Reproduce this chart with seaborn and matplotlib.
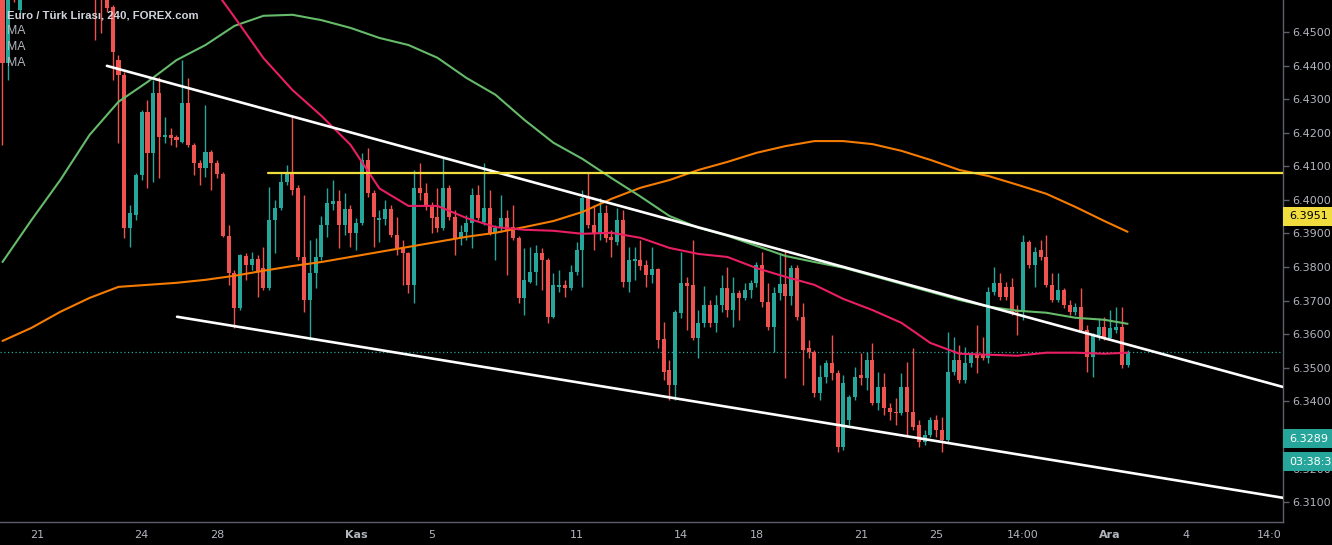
import matplotlib
matplotlib.use("Agg")
import matplotlib.pyplot as plt
from matplotlib.patches import Rectangle
import numpy as np
import pandas as pd
import seaborn as sns

# EUR/TRY 4h candles, one entry per bar (bar index 0 = first visible bar)
opens = [
    6.4684, 6.4407, 6.4660, 6.4565, 6.4670, 6.4640, 6.4700, 6.4760, 6.4730, 6.4790,
    6.4740, 6.4700, 6.4750, 6.4720, 6.4690, 6.4720, 6.4670, 6.4640, 6.4610, 6.4574,
    6.4416, 6.4372, 6.3917, 6.3955, 6.4075, 6.4262, 6.4140, 6.4318, 6.4187, 6.4193,
    6.4187, 6.4172, 6.4289, 6.4164, 6.4110, 6.4095, 6.4143, 6.4110, 6.4077, 6.3893,
    6.3783, 6.3679, 6.3833, 6.3806, 6.3824, 6.3798, 6.3738, 6.3940, 6.3976, 6.4054,
    6.4083, 6.4036, 6.3830, 6.3702, 6.3783, 6.3830, 6.3926, 6.3988, 6.3997, 6.3926,
    6.3973, 6.3902, 6.3931, 6.4119, 6.4021, 6.3940, 6.3943, 6.3973, 6.3896, 6.3857,
    6.3842, 6.3747, 6.4036, 6.4021, 6.3982, 6.3949, 6.3917, 6.4036, 6.3949, 6.3887,
    6.3905, 6.3931, 6.4015, 6.3934, 6.3976, 6.3902, 6.3917, 6.3946, 6.3920, 6.3887,
    6.3708, 6.3756, 6.3786, 6.3842, 6.3821, 6.3652, 6.3741, 6.3747, 6.3738, 6.3786,
    6.3851, 6.4006, 6.3926, 6.3902, 6.3961, 6.3890, 6.3875, 6.3940, 6.3756, 6.3818,
    6.3821, 6.3806, 6.3777, 6.3795, 6.3586, 6.3494, 6.3449, 6.3664, 6.3753, 6.3747,
    6.3589, 6.3634, 6.3688, 6.3634, 6.3688, 6.3738, 6.3673, 6.3723, 6.3708, 6.3732,
    6.3753, 6.3806, 6.3696, 6.3622, 6.3723, 6.3750, 6.3714, 6.3798, 6.3652, 6.3560,
    6.3548, 6.3426, 6.3473, 6.3515, 6.3485, 6.3265, 6.3345, 6.3414, 6.3479, 6.3470,
    6.3524, 6.3396, 6.3443, 6.3381, 6.3369, 6.3366, 6.3443, 6.3369, 6.3330, 6.3280,
    6.3301, 6.3345, 6.3315, 6.3286, 6.3488, 6.3524, 6.3464, 6.3515, 6.3539, 6.3539,
    6.3530, 6.3726, 6.3753, 6.3741, 6.3741, 6.3673, 6.3667, 6.3875, 6.3806, 6.3851,
    6.3830, 6.3747, 6.3702, 6.3732, 6.3688, 6.3667, 6.3682, 6.3613, 6.3533, 6.3598,
    6.3622, 6.3589, 6.3613, 6.3622, 6.3509,
]
highs = [
    6.4774, 6.4714, 6.4690, 6.4714, 6.4720, 6.4730, 6.4790, 6.4800, 6.4820, 6.4830,
    6.4770, 6.4780, 6.4770, 6.4750, 6.4740, 6.4750, 6.4710, 6.4680, 6.4670, 6.4580,
    6.4431, 6.4381, 6.3985, 6.4080, 6.4268, 6.4298, 6.4357, 6.4366, 6.4247, 6.4214,
    6.4193, 6.4416, 6.4363, 6.4170, 6.4119, 6.4283, 6.4149, 6.4119, 6.4083, 6.3926,
    6.3792, 6.3839, 6.3842, 6.3845, 6.3836, 6.3860, 6.4039, 6.4000, 6.4080, 6.4104,
    6.4253, 6.4045, 6.4015, 6.3881, 6.3887, 6.3952, 6.4036, 6.4060, 6.4030, 6.4021,
    6.3985, 6.3946, 6.4140, 6.4155, 6.4030, 6.3970, 6.4000, 6.3985, 6.3949, 6.3881,
    6.3845, 6.4089, 6.4110, 6.4051, 6.3994, 6.4036, 6.4125, 6.4045, 6.3970, 6.3926,
    6.3955, 6.4036, 6.4045, 6.4110, 6.4030, 6.3926, 6.4015, 6.3970, 6.3985, 6.3893,
    6.3857, 6.3860, 6.3866, 6.3857, 6.3827, 6.3783, 6.3792, 6.3762, 6.3806, 6.3875,
    6.4030, 6.4083, 6.3985, 6.4006, 6.3985, 6.3911, 6.3976, 6.3970, 6.3860, 6.3860,
    6.3881, 6.3821, 6.3860, 6.3798, 6.3637, 6.3524, 6.3673, 6.3845, 6.3771, 6.3881,
    6.3673, 6.3744, 6.3702, 6.3717, 6.3777, 6.3801, 6.3771, 6.3732, 6.3753, 6.3762,
    6.3815, 6.3845, 6.3753, 6.3741, 6.3842, 6.3851, 6.3806, 6.3806, 6.3693, 6.3583,
    6.3554, 6.3509, 6.3524, 6.3598, 6.3494, 6.3479, 6.3420, 6.3503, 6.3545, 6.3548,
    6.3574, 6.3488, 6.3485, 6.3396, 6.3411, 6.3485, 6.3518, 6.3560, 6.3345, 6.3315,
    6.3354, 6.3360, 6.3354, 6.3607, 6.3592, 6.3568, 6.3562, 6.3548, 6.3628, 6.3592,
    6.3741, 6.3801, 6.3783, 6.3756, 6.3768, 6.3688, 6.3896, 6.3881, 6.3860, 6.3881,
    6.3896, 6.3783, 6.3783, 6.3738, 6.3702, 6.3693, 6.3738, 6.3628, 6.3604, 6.3649,
    6.3652, 6.3673, 6.3682, 6.3682, 6.3554,
]
lows = [
    6.4164, 6.4357, 6.4590, 6.4553, 6.4610, 6.4620, 6.4680, 6.4700, 6.4710, 6.4700,
    6.4660, 6.4680, 6.4690, 6.4650, 6.4660, 6.4640, 6.4476, 6.4497, 6.4559, 6.4357,
    6.4170, 6.3887, 6.3860, 6.3940, 6.4060, 6.4036, 6.4054, 6.4066, 6.4170, 6.4164,
    6.4158, 6.4170, 6.4158, 6.4075, 6.4045, 6.4069, 6.4030, 6.4066, 6.3890, 6.3747,
    6.3619, 6.3673, 6.3762, 6.3792, 6.3711, 6.3732, 6.3732, 6.3842, 6.3970, 6.4045,
    6.4015, 6.3821, 6.3667, 6.3583, 6.3738, 6.3821, 6.3890, 6.3970, 6.3857, 6.3896,
    6.3860, 6.3851, 6.3926, 6.4009, 6.3860, 6.3875, 6.3926, 6.3890, 6.3836, 6.3747,
    6.3723, 6.3693, 6.4000, 6.3970, 6.3902, 6.3905, 6.3911, 6.3940, 6.3836, 6.3866,
    6.3881, 6.3857, 6.3940, 6.3926, 6.3896, 6.3821, 6.3905, 6.3777, 6.3881, 6.3693,
    6.3658, 6.3753, 6.3747, 6.3732, 6.3634, 6.3649, 6.3726, 6.3711, 6.3732, 6.3777,
    6.3741, 6.3917, 6.3851, 6.3881, 6.3875, 6.3830, 6.3866, 6.3741, 6.3726, 6.3762,
    6.3792, 6.3741, 6.3753, 6.3560, 6.3464, 6.3405, 6.3405, 6.3649, 6.3613, 6.3583,
    6.3530, 6.3622, 6.3622, 6.3607, 6.3667, 6.3652, 6.3622, 6.3643, 6.3702, 6.3708,
    6.3741, 6.3682, 6.3613, 6.3548, 6.3702, 6.3470, 6.3688, 6.3643, 6.3449, 6.3530,
    6.3414, 6.3405, 6.3455, 6.3464, 6.3250, 6.3256, 6.3330, 6.3405, 6.3449, 6.3435,
    6.3390, 6.3375, 6.3360, 6.3345, 6.3330, 6.3360, 6.3295, 6.3315, 6.3265, 6.3271,
    6.3295, 6.3295, 6.3250, 6.3280, 6.3479, 6.3455, 6.3455, 6.3503, 6.3485, 6.3524,
    6.3515, 6.3717, 6.3702, 6.3702, 6.3658, 6.3598, 6.3643, 6.3798, 6.3741, 6.3821,
    6.3741, 6.3696, 6.3696, 6.3679, 6.3658, 6.3658, 6.3607, 6.3488, 6.3473, 6.3583,
    6.3583, 6.3583, 6.3604, 6.3500, 6.3503,
]
closes = [
    6.4407, 6.4625, 6.4600, 6.4670, 6.4640, 6.4700, 6.4760, 6.4730, 6.4790, 6.4740,
    6.4700, 6.4750, 6.4720, 6.4690, 6.4720, 6.4670, 6.4610, 6.4595, 6.4571, 6.4440,
    6.4372, 6.3917, 6.3961, 6.4075, 6.4262, 6.4140, 6.4318, 6.4187, 6.4193, 6.4184,
    6.4178, 6.4289, 6.4164, 6.4110, 6.4095, 6.4143, 6.4110, 6.4077, 6.3893, 6.3783,
    6.3679, 6.3836, 6.3806, 6.3824, 6.3786, 6.3738, 6.3940, 6.3976, 6.4054, 6.4083,
    6.4030, 6.3830, 6.3702, 6.3783, 6.3830, 6.3926, 6.3991, 6.3997, 6.3926, 6.3973,
    6.3902, 6.3931, 6.4119, 6.4021, 6.3949, 6.3946, 6.3973, 6.3896, 6.3857, 6.3842,
    6.3747, 6.4036, 6.4021, 6.3979, 6.3946, 6.3917, 6.4036, 6.3949, 6.3887, 6.3905,
    6.3931, 6.4015, 6.3946, 6.3976, 6.3902, 6.3917, 6.3946, 6.3911, 6.3887, 6.3708,
    6.3762, 6.3786, 6.3842, 6.3821, 6.3652, 6.3747, 6.3747, 6.3738, 6.3786, 6.3851,
    6.4006, 6.3926, 6.3902, 6.3961, 6.3887, 6.3881, 6.3940, 6.3756, 6.3821, 6.3824,
    6.3803, 6.3777, 6.3795, 6.3583, 6.3488, 6.3449, 6.3667, 6.3753, 6.3744, 6.3589,
    6.3634, 6.3688, 6.3634, 6.3688, 6.3738, 6.3673, 6.3723, 6.3708, 6.3732, 6.3753,
    6.3806, 6.3696, 6.3622, 6.3723, 6.3750, 6.3714, 6.3798, 6.3652, 6.3554, 6.3548,
    6.3426, 6.3473, 6.3515, 6.3485, 6.3265, 6.3455, 6.3414, 6.3473, 6.3470, 6.3524,
    6.3396, 6.3443, 6.3381, 6.3369, 6.3366, 6.3443, 6.3369, 6.3324, 6.3280, 6.3301,
    6.3345, 6.3315, 6.3286, 6.3488, 6.3524, 6.3464, 6.3515, 6.3539, 6.3530, 6.3530,
    6.3726, 6.3753, 6.3711, 6.3711, 6.3667, 6.3667, 6.3875, 6.3806, 6.3845, 6.3830,
    6.3747, 6.3702, 6.3732, 6.3688, 6.3667, 6.3682, 6.3613, 6.3533, 6.3598, 6.3622,
    6.3589, 6.3619, 6.3622, 6.3509, 6.3548,
]

# moving averages, read every 5 bars
ma_bars = list(range(0, 191, 5)) + [194]
ma_green = [
    6.3815, 6.3940, 6.4060, 6.4193, 6.4292, 6.4351, 6.4416, 6.4461, 6.4518, 6.4548,
    6.4551, 6.4535, 6.4512, 6.4482, 6.4461, 6.4423, 6.4363, 6.4313, 6.4238, 6.4170,
    6.4122, 6.4065, 6.4010, 6.3952, 6.3917, 6.3893, 6.3863, 6.3833, 6.3815, 6.3798,
    6.3774, 6.3750, 6.3726, 6.3702, 6.3682, 6.3670, 6.3664, 6.3649, 6.3643, 6.3631,
]
ma_orange = [
    6.3580, 6.3619, 6.3667, 6.3708, 6.3741, 6.3747, 6.3753, 6.3762, 6.3774, 6.3789,
    6.3803, 6.3815, 6.3830, 6.3845, 6.3860, 6.3875, 6.3890, 6.3902, 6.3919, 6.3937,
    6.3964, 6.4003, 6.4036, 6.4059, 6.4089, 6.4113, 6.4140, 6.4160, 6.4175, 6.4175,
    6.4166, 6.4146, 6.4119, 6.4089, 6.4071, 6.4045, 6.4018, 6.3979, 6.3937, 6.3905,
]
ma_red_bars = list(range(30, 191, 5)) + [194]
ma_red = [
    6.4785, 6.4663, 6.4544, 6.4422, 6.4327, 6.4250, 6.4164, 6.4034, 6.3982, 6.3982,
    6.3946, 6.3919, 6.3911, 6.3908, 6.3899, 6.3902, 6.3887, 6.3857, 6.3839, 6.3830,
    6.3797, 6.3771, 6.3747, 6.3705, 6.3672, 6.3634, 6.3574, 6.3542, 6.3539, 6.3536,
    6.3545, 6.3545, 6.3542, 6.3545,
]

# drawn lines: channel and resistance level
upper_bars = [18.0, 220.8]
upper_prices = [6.4399, 6.3443]
lower_bars = [30.1, 220.8]
lower_prices = [6.3652, 6.3113]
level_bars = [45.8, 220.8]
level_price = 6.4080

tick_bars = [6, 24, 37, 61, 74, 99, 117, 130, 148, 161, 176, 191, 204, 218.5]
tick_labels = ["21", "24", "28", "Kas", "5", "11", "14", "18", "21", "25",
               "14:00", "Ara", "4", "14:0"]
price_ticks = [6.31, 6.32, 6.33, 6.34, 6.35, 6.36, 6.37, 6.38, 6.39, 6.40,
               6.41, 6.42, 6.43, 6.44, 6.45]

TEAL = "#26a69a"
RED = "#ef5350"
AXIS = "#5d606b"
TXT = "#b2b5be"

sns.set_theme(style="dark", rc={"axes.facecolor": "black", "figure.facecolor": "black"})
plt.rcParams["font.family"] = ["DejaVu Sans"]

fig = plt.figure(figsize=(13.32, 5.45), dpi=100)
ax = fig.add_axes([0, 23 / 545, 1283 / 1332, 522 / 545])
ax.set_facecolor("black")
ax.grid(False)

df = pd.DataFrame({"open": opens, "high": highs, "low": lows, "close": closes})
df["bar"] = np.arange(len(df))
colors = np.where(df["close"] >= df["open"], TEAL, RED)

# candles
ax.vlines(df["bar"], df["low"], df["high"], colors=colors, linewidth=1, zorder=2)
body = (df["close"] - df["open"]).abs().clip(lower=0.00008)
ax.bar(df["bar"], body, bottom=df[["open", "close"]].min(axis=1), width=0.7,
       color=colors, linewidth=0, zorder=3)

# moving averages
sns.lineplot(x=ma_bars, y=ma_orange, color="#f57c00", linewidth=1.5, ax=ax, zorder=4)
sns.lineplot(x=ma_bars, y=ma_green, color="#66bb6a", linewidth=1.5, ax=ax, zorder=4)
sns.lineplot(x=ma_red_bars, y=ma_red, color="#e91e63", linewidth=1.5, ax=ax, zorder=4)

# channel + level
sns.lineplot(x=upper_bars, y=upper_prices, color="white", linewidth=1.9, ax=ax, zorder=5)
sns.lineplot(x=lower_bars, y=lower_prices, color="white", linewidth=1.9, ax=ax, zorder=5)
sns.lineplot(x=level_bars, y=[level_price] * 2, color="#f2dd3f", linewidth=1.6, ax=ax, zorder=5)

# last price dotted line
ax.axhline(closes[-1], color=TEAL, linewidth=0.9, linestyle=(0, (1, 2)), zorder=1)

ax.set_xlim(-0.43, 220.8)
ax.set_ylim(6.3041, 6.4595)
ax.set_xlabel("")
ax.set_ylabel("")

ax.yaxis.tick_right()
ax.set_yticks(price_ticks)
# 6.3300 sits fully behind the last-price tag, as on the reference
ax.set_yticklabels(["" if abs(p - 6.33) < 1e-9 else f"{p:.4f}" for p in price_ticks])
ax.set_xticks(tick_bars)
ax.set_xticklabels(tick_labels)
for lbl in ax.get_xticklabels():
    if lbl.get_text() in ("Kas", "Ara"):
        lbl.set_fontweight("bold")
ax.tick_params(axis="y", colors=AXIS, labelcolor=TXT, labelsize=8, length=4,
               width=1, pad=3, direction="out")
ax.tick_params(axis="x", colors=AXIS, labelcolor=TXT, labelsize=8, length=3,
               width=1, pad=3, direction="out")
for side in ("top", "left"):
    ax.spines[side].set_visible(False)
for side in ("right", "bottom"):
    ax.spines[side].set_color(AXIS)
    ax.spines[side].set_linewidth(1)

# price tags on the right scale
tag_tr = ax.get_yaxis_transform()
tag_w = 49 / 1283
tag_h = 19 / 3360
tags = [(6.3951, "6.3951", "#f2dd3f", "black"),
        (6.3289, "6.3289", TEAL, "white"),
        (6.3220, "03:38:3", TEAL, "white")]
for price, text, face, fg in tags:
    ax.add_patch(Rectangle((1.0, price - tag_h / 2), tag_w, tag_h, transform=tag_tr,
                           facecolor=face, edgecolor="none", clip_on=False, zorder=10))
    ax.text(1.0 + 6 / 1283, price, text, transform=tag_tr, color=fg, fontsize=8,
            va="center", ha="left", clip_on=False, zorder=11)

# legend-like header
fig.text(7 / 1332, 1 - 15 / 545, "Euro / Türk Lirası, 240, FOREX.com", color="#d1d4dc",
         fontsize=8.2, fontweight="bold", va="center", family=["Liberation Sans", "DejaVu Sans"])
for i in range(3):
    fig.text(7 / 1332, 1 - (31 + 16 * i) / 545, "MA", color=TXT, fontsize=8.8,
             va="center", family=["Liberation Sans", "DejaVu Sans"])

fig.savefig("out.png", dpi=100, facecolor="black")
